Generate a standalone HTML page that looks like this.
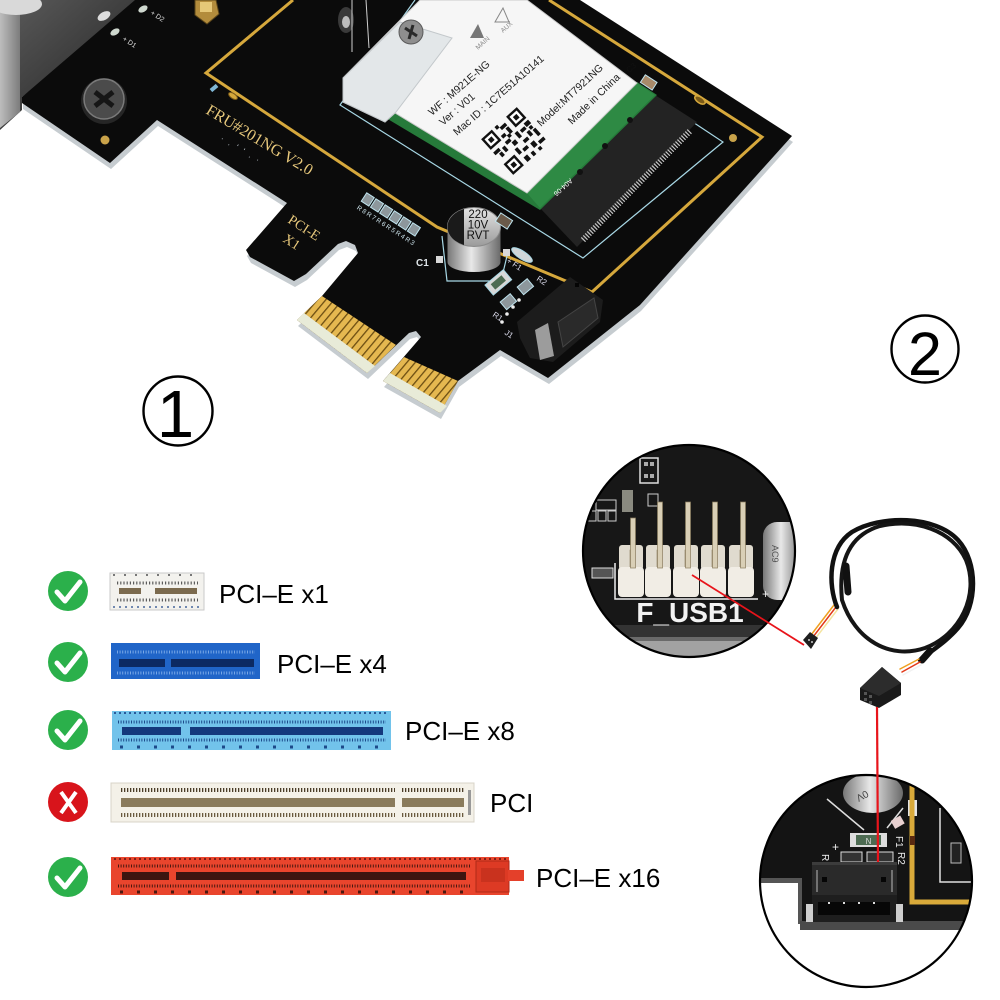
<!DOCTYPE html>
<html><head><meta charset="utf-8"><title>PCI-E WiFi card</title>
<style>
html,body{margin:0;padding:0;background:#fff;width:1000px;height:1000px;overflow:hidden}
svg{display:block}
</style></head><body>
<svg width="1000" height="1000" viewBox="0 0 1000 1000" xmlns="http://www.w3.org/2000/svg" font-family="Liberation Sans, Arial, sans-serif">
<defs>
 <linearGradient id="brk" x1="0" x2="1" y1="0" y2="0"><stop offset="0" stop-color="#bdbdbd"/><stop offset="1" stop-color="#7c7c7c"/></linearGradient>
 <linearGradient id="brk2" x1="0" y1="0" x2="1" y2="1"><stop offset="0" stop-color="#5c5c5c"/><stop offset="1" stop-color="#1c1c1c"/></linearGradient>
 <pattern id="fing" width="6.4" height="10" patternUnits="userSpaceOnUse" patternTransform="rotate(40)"><rect width="6.4" height="10" fill="#6b4d12"/><rect x="1.3" width="5.1" height="10" fill="#e5b850"/></pattern>
 <linearGradient id="cap" x1="0" x2="1"><stop offset="0" stop-color="#777"/><stop offset=".45" stop-color="#e8e8e8"/><stop offset="1" stop-color="#6a6a6a"/></linearGradient>
 <linearGradient id="capv" x1="0" x2="0" y1="0" y2="1"><stop offset="0" stop-color="#e4e4e4"/><stop offset="1" stop-color="#9a9a9a"/></linearGradient>
 <clipPath id="c1"><circle cx="689" cy="551" r="106"/></clipPath>
 <clipPath id="c2"><circle cx="866" cy="881" r="106"/></clipPath>
 <clipPath id="captop"><ellipse cx="474" cy="227" rx="26.5" ry="19.5"/></clipPath>
</defs>
<rect width="1000" height="1000" fill="#fff"/>

<!-- ===== bracket ===== -->
<polygon points="0,0 145,0 22,97 22,110 0,130" fill="url(#brk2)"/>
<polygon points="0,0 20,0 20,112 0,128" fill="url(#brk)"/>
<ellipse cx="16" cy="4" rx="26" ry="11" fill="#d9d9d9"/>

<!-- ===== board ===== -->
<polygon transform="translate(1,6)" fill="#c6ccd0" points="135,0 580,0 792,136 640,305 548,378 500,350 458,381 440,413 383,381 421,337 416,331 409,333 367,373 297,320 322,296 358,253 355,245 346,241 338,244 306,274 294,281 250,257 246,250 287,203 157,120 110,163 22,103 22,97"/>
<polygon fill="#0b0b0b" points="135,0 580,0 792,136 640,305 548,378 500,350 458,381 440,413 383,381 421,337 416,331 409,333 367,373 297,320 322,296 358,253 355,245 346,241 338,244 306,274 294,281 250,257 246,250 287,203 157,120 110,163 22,103 22,97"/>

<!-- gold fingers -->
<polygon points="297,320 322,296 396,345 367,373" fill="url(#fing)"/>
<polygon points="297,320 304,313 375,366 367,373" fill="#e8ebd8"/>
<polygon points="383,381 404,357 458,381 440,413" fill="url(#fing)"/>
<polygon points="383,381 390,373 447,406 440,413" fill="#e8ebd8"/>

<!-- gold frame trace -->
<polyline points="293,0 206,73 437,227 592,292 762,137 549,0" fill="none" stroke="#d6a83c" stroke-width="3"/>
<rect x="210" y="86" width="8" height="4" fill="#7fb7d6" transform="rotate(-40 214 88)"/>
<ellipse cx="233" cy="96" rx="5" ry="2.5" fill="#d6a83c" stroke="#7a5a18" transform="rotate(34 233 96)"/>
<ellipse cx="700" cy="100" rx="6" ry="3" fill="#7a5a18" stroke="#d6a83c" stroke-width="1.5" transform="rotate(34 700 100)"/>
<circle cx="733" cy="138" r="4" fill="#c9a34a"/>

<!-- cyan silkscreen outline -->
<polyline points="415,0 340,105 583,258 723,142 508,0" fill="none" stroke="#a8d8e6" stroke-width="1.2"/>

<!-- foot screw -->
<circle cx="104" cy="101" r="23" fill="#262626"/>
<circle cx="104" cy="99" r="20" fill="#4b4b4b" stroke="#7a7a7a" stroke-width="1.5"/>
<path d="M95,92 L113,106 M113,92 L95,106" stroke="#161616" stroke-width="5"/>
<circle cx="105" cy="140" r="4.5" fill="#caa34a"/>

<!-- LEDs -->
<ellipse cx="104" cy="16" rx="7" ry="4" fill="#dcdcdc" transform="rotate(-30 104 16)"/>
<ellipse cx="115" cy="32" rx="5" ry="3" fill="#cfd8cf" transform="rotate(-30 115 32)"/>
<ellipse cx="143" cy="9" rx="5" ry="3" fill="#cfd8cf" transform="rotate(-30 143 9)"/>
<text x="122" y="40" font-size="7" fill="#ddd" transform="rotate(33 122 40)">+ D1</text>
<text x="150" y="14" font-size="7" fill="#ddd" transform="rotate(33 150 14)">+ D2</text>

<!-- brass connector -->
<polygon points="195,0 216,0 219,14 207,24 195,15" fill="#b38c3c" stroke="#5a4418"/>
<rect x="200" y="2" width="12" height="10" fill="#e6c878"/>

<!-- top components -->
<ellipse cx="346" cy="20" rx="8" ry="13" fill="#3a3a3a"/>
<ellipse cx="346" cy="22" rx="4" ry="6" fill="#bdbdbd"/>
<line x1="352" y1="0" x2="352" y2="52" stroke="#cfcfcf" stroke-width="1"/>
<line x1="366" y1="0" x2="369" y2="48" stroke="#cfcfcf" stroke-width="1"/>

<!-- FRU text -->
<text x="205" y="113" font-family="Liberation Serif, serif" font-size="16" fill="#e8c97c" transform="rotate(31 205 113)">FRU#201NG V2.0</text>
<text x="220" y="140" font-size="8" fill="#cfd8e0" letter-spacing="2" transform="rotate(31 220 140)">· . ' ' . ·</text>
<text x="287" y="222" font-family="Liberation Serif, serif" font-size="14" fill="#e8c97c" transform="rotate(33 287 222)">PCI-E</text>
<text x="282" y="241" font-family="Liberation Serif, serif" font-size="14" fill="#e8c97c" transform="rotate(33 282 241)">X1</text>

<!-- resistor array R3-R8 -->
<g transform="translate(364,197) rotate(33)">
 <rect x="0" y="-5" width="9" height="10" fill="#8d979c" stroke="#bfe4ef" stroke-width="1"/>
 <rect x="11" y="-5" width="9" height="10" fill="#8d979c" stroke="#bfe4ef" stroke-width="1"/>
 <rect x="22" y="-5" width="9" height="10" fill="#8d979c" stroke="#bfe4ef" stroke-width="1"/>
 <rect x="33" y="-5" width="9" height="10" fill="#8d979c" stroke="#bfe4ef" stroke-width="1"/>
 <rect x="44" y="-5" width="9" height="10" fill="#8d979c" stroke="#bfe4ef" stroke-width="1"/>
 <rect x="55" y="-5" width="9" height="10" fill="#8d979c" stroke="#bfe4ef" stroke-width="1"/>
 <text x="0" y="14" font-size="6.5" fill="#cfe6ef" letter-spacing="1.6">R8R7R6R5R4R3</text>
</g>

<!-- C1 + capacitor -->
<text x="416" y="266" font-size="10" font-weight="bold" fill="#e0e6ea">C1</text>
<polyline points="442,236 447,281 501,281 507,256" fill="none" stroke="#a8d8e6" stroke-width="1.2"/>
<rect x="436" y="256" width="7" height="7" fill="#d8d8d8"/>
<rect x="503" y="249" width="7" height="7" fill="#d8d8d8"/>
<path d="M447.5,227 L447.5,262 A26.5,10 0 0 0 500.5,262 L500.5,227 Z" fill="url(#cap)"/>
<ellipse cx="474" cy="227" rx="26.5" ry="19.5" fill="url(#capv)" stroke="#8a8a8a" stroke-width="1"/>
<rect x="440" y="200" width="24" height="60" fill="#1a1a1a" clip-path="url(#captop)"/>
<text x="478" y="218" font-size="11.5" text-anchor="middle" fill="#111">220</text>
<text x="478" y="228.5" font-size="11.5" text-anchor="middle" fill="#111">10V</text>
<text x="478" y="239" font-size="11.5" text-anchor="middle" fill="#111">RVT</text>
<rect x="497" y="216" width="14" height="10" fill="#6a5a4a" stroke="#bfe4ef" transform="rotate(33 504 221)"/>

<!-- small components near connector -->
<ellipse cx="522" cy="255" rx="12" ry="4" fill="#d0d6d8" stroke="#a8d8e6" transform="rotate(33 522 255)"/>
<text x="506" y="262" font-size="8" fill="#dde" transform="rotate(33 506 262)">+ F1</text>
<rect x="486" y="276" width="24" height="13" fill="#d8d8d8" stroke="#a8d8e6" transform="rotate(-40 498 282)"/>
<rect x="491" y="279" width="14" height="7" fill="#4d6b52" transform="rotate(-40 498 282)"/>
<rect x="519" y="282" width="13" height="10" fill="#8d979c" stroke="#bfe4ef" transform="rotate(-40 525 287)"/>
<rect x="502" y="297" width="13" height="10" fill="#8d979c" stroke="#bfe4ef" transform="rotate(-40 508 302)"/>
<text x="492" y="316" font-size="8" fill="#dde" transform="rotate(33 492 316)">R1</text>
<text x="536" y="280" font-size="8" fill="#dde" transform="rotate(33 536 280)">R2</text>
<circle cx="519" cy="300" r="1.8" fill="#eee"/><circle cx="513" cy="307" r="1.8" fill="#eee"/><circle cx="507" cy="314" r="1.8" fill="#eee"/><circle cx="502" cy="322" r="1.8" fill="#eee"/>
<text x="504" y="334" font-size="8" fill="#dde" transform="rotate(33 504 334)">J1</text>

<!-- J1 connector -->
<polygon points="517,322 570,277 603,300 600,322 553,362 530,358 520,338" fill="#1c1c1c"/>
<polygon points="558,322 594,298 598,318 563,347" fill="#2a2a2a" stroke="#444"/>
<polygon points="535,330 548,323 554,356 540,360" fill="#9c9c9c"/>
<rect x="575" y="283" width="4" height="4" fill="#050505"/>

<!-- ===== WiFi module ===== -->
<polygon points="540,208 577,247 697,122 655,95" fill="#232323"/>
<line x1="583" y1="240" x2="690" y2="131" stroke="#c6c6c6" stroke-width="6" stroke-dasharray="1.2 1.6"/>
<polygon points="386,118 540,210 657,95 637,82 527,193 395,112" fill="#267a3a"/>
<polygon points="527,193 637,83 655,95 540,208" fill="#2e8a44"/>
<circle cx="580" cy="172" r="3" fill="#111"/><circle cx="605" cy="146" r="3" fill="#111"/><circle cx="630" cy="120" r="3" fill="#111"/>
<text x="570" y="178" font-size="7" fill="#fff" transform="rotate(138 570 178)">A04-06</text>
<polygon points="343,78 420,0 527,0 637,83 527,193 395,113 385,122 343,102" fill="#f6f6f6" stroke="#c9c9c9" stroke-width="1"/>
<polygon points="343,78 400,22 452,38 396,112 385,122 343,102" fill="#e3e7e9" stroke="#c3c8cb" stroke-width="1"/>
<circle cx="411" cy="32" r="12" fill="#8e8e8e" stroke="#5a5a5a"/>
<path d="M405,28 L417,36 M413,25 L409,39" stroke="#2a2a2a" stroke-width="3"/>
<polygon points="470,38 478,24 484,38" fill="#777"/>
<polygon points="495,22 503,8 509,22" fill="none" stroke="#888"/>
<text x="478" y="50" font-size="6.5" fill="#888" transform="rotate(-42 478 50)">MAIN</text>
<text x="503" y="33" font-size="6.5" fill="#888" transform="rotate(-42 503 33)">AUX</text>
<g font-size="10.5" fill="#222">
 <text x="432" y="116" transform="rotate(-41 432 116)">WF : M921E-NG</text>
 <text x="443" y="126" transform="rotate(-41 443 126)">Ver : V01</text>
 <text x="457" y="136" transform="rotate(-41 457 136)">Mac ID : 1C7E51A10141</text>
 <text x="541" y="127" transform="rotate(-43 541 127)">Model:MT7921NG</text>
 <text x="572" y="125" transform="rotate(-44 572 125)">Made in China</text>
</g>
<text x="629" y="73" font-size="8" fill="#111" transform="rotate(-40 629 73)">C3</text>
<rect x="642" y="78" width="14" height="9" fill="#a88a6a" stroke="#bfe4ef" transform="rotate(33 649 82)"/>
<g transform="translate(515,141) rotate(-42) scale(1.2)">
 <rect x="-20" y="-20" width="12" height="12" fill="#111"/><rect x="-18" y="-18" width="8" height="8" fill="#fff"/><rect x="-16" y="-16" width="4" height="4" fill="#111"/>
 <rect x="8" y="-20" width="12" height="12" fill="#111"/><rect x="10" y="-18" width="8" height="8" fill="#fff"/><rect x="12" y="-16" width="4" height="4" fill="#111"/>
 <rect x="-20" y="8" width="12" height="12" fill="#111"/><rect x="-18" y="10" width="8" height="8" fill="#fff"/><rect x="-16" y="12" width="4" height="4" fill="#111"/>
 <g fill="#111">
  <rect x="-5" y="-20" width="3" height="3"/><rect x="-2" y="-17" width="6" height="3"/><rect x="1" y="-13" width="3" height="6"/>
  <rect x="-6" y="-11" width="4" height="3"/><rect x="-20" y="-5" width="6" height="3"/><rect x="-12" y="-3" width="3" height="5"/>
  <rect x="-7" y="-5" width="5" height="3"/><rect x="-3" y="-1" width="4" height="4"/><rect x="4" y="-5" width="3" height="6"/>
  <rect x="9" y="-4" width="5" height="3"/><rect x="15" y="-6" width="5" height="4"/><rect x="12" y="1" width="3" height="5"/>
  <rect x="17" y="3" width="3" height="7"/><rect x="5" y="4" width="5" height="3"/><rect x="-5" y="5" width="3" height="6"/>
  <rect x="0" y="9" width="5" height="3"/><rect x="8" y="10" width="4" height="5"/><rect x="14" y="13" width="6" height="3"/>
  <rect x="-4" y="15" width="4" height="5"/><rect x="3" y="16" width="3" height="4"/><rect x="10" y="17" width="3" height="3"/>
  <rect x="-17" y="-1" width="3" height="4"/><rect x="-2" y="-8" width="3" height="3"/><rect x="16" y="-1" width="3" height="3"/>
 </g>
</g>

<!-- ===== circled numbers ===== -->
<circle cx="178" cy="411" r="34.5" fill="none" stroke="#000" stroke-width="2.4"/>
<text x="175.5" y="437" font-size="67" text-anchor="middle" fill="#000">1</text>
<circle cx="925" cy="349" r="33.5" fill="none" stroke="#000" stroke-width="2.4"/>
<text x="925" y="375" font-size="61" text-anchor="middle" fill="#000">2</text>

<!-- ===== compatibility list ===== -->
<g stroke="#fff" stroke-width="5" fill="none" stroke-linecap="round" stroke-linejoin="round">
 <circle cx="68" cy="591" r="20" fill="#2bb04b" stroke="none"/>
 <path d="M57,592 L65,601 L80,582"/>
 <circle cx="68" cy="662" r="20" fill="#2bb04b" stroke="none"/>
 <path d="M57,663 L65,672 L80,653"/>
 <circle cx="68" cy="730" r="20" fill="#2bb04b" stroke="none"/>
 <path d="M57,731 L65,740 L80,721"/>
 <circle cx="68" cy="802" r="20" fill="#d8141b" stroke="none"/>
 <path d="M61,792 L76,813 M76,792 L61,813" stroke-width="4" stroke-linecap="butt"/>
 <circle cx="68" cy="877" r="20" fill="#2bb04b" stroke="none"/>
 <path d="M57,878 L65,887 L80,868"/>
</g>

<!-- slot x1 -->
<rect x="110" y="573" width="94" height="37" fill="#f3f2ee" stroke="#c9c9c9"/>
<line x1="113" y1="575" x2="201" y2="575" stroke="#777" stroke-width="2" stroke-dasharray="2 9"/>
<line x1="117" y1="583" x2="198" y2="583" stroke="#5b5b5b" stroke-width="3" stroke-dasharray="1.2 2"/>
<rect x="119" y="588" width="22" height="6" fill="#7b6a4e"/>
<rect x="155" y="588" width="42" height="6" fill="#7b6a4e"/>
<line x1="117" y1="600" x2="198" y2="600" stroke="#5b5b5b" stroke-width="3" stroke-dasharray="1.2 2"/>
<line x1="113" y1="607" x2="201" y2="607" stroke="#7088b0" stroke-width="2" stroke-dasharray="2 4"/>
<text x="219" y="603" font-size="26" fill="#000">PCI–E x1</text>

<!-- slot x4 -->
<rect x="111" y="643" width="149" height="36" fill="#2065c8"/>
<line x1="117" y1="652" x2="255" y2="652" stroke="#79a8e6" stroke-width="3" stroke-dasharray="1 1.6"/>
<rect x="119" y="659" width="46" height="8" fill="#0c2a63"/>
<rect x="171" y="659" width="83" height="8" fill="#0c2a63"/>
<line x1="117" y1="673" x2="255" y2="673" stroke="#79a8e6" stroke-width="3" stroke-dasharray="1 1.6"/>
<text x="277" y="673" font-size="26" fill="#000">PCI–E x4</text>

<!-- slot x8 -->
<rect x="112" y="711" width="279" height="39" fill="#72c3eb"/>
<line x1="114" y1="713" x2="389" y2="713" stroke="#2a5a9a" stroke-width="2" stroke-dasharray="2 3"/>
<line x1="118" y1="722" x2="386" y2="722" stroke="#1c4a8a" stroke-width="3" stroke-dasharray="1 1.6"/>
<rect x="122" y="727" width="59" height="8" fill="#14387c"/>
<rect x="190" y="727" width="193" height="8" fill="#14387c"/>
<line x1="118" y1="740" x2="386" y2="740" stroke="#1c4a8a" stroke-width="3" stroke-dasharray="1 1.6"/>
<line x1="120" y1="747" x2="386" y2="747" stroke="#1c4a8a" stroke-width="3" stroke-dasharray="3 14"/>
<text x="405" y="740" font-size="26" fill="#000">PCI–E x8</text>

<!-- slot PCI -->
<rect x="111" y="783" width="363" height="39" fill="#f4f1e8" stroke="#d8d4c8"/>
<line x1="121" y1="790" x2="395" y2="790" stroke="#4a3d28" stroke-width="4" stroke-dasharray="1.3 1.7"/>
<line x1="402" y1="790" x2="464" y2="790" stroke="#4a3d28" stroke-width="4" stroke-dasharray="1.3 1.7"/>
<rect x="121" y="798" width="274" height="9" fill="#8a7b5c"/>
<rect x="402" y="798" width="62" height="9" fill="#8a7b5c"/>
<line x1="121" y1="815" x2="395" y2="815" stroke="#6a5a3e" stroke-width="4" stroke-dasharray="1.3 1.7"/>
<line x1="402" y1="815" x2="464" y2="815" stroke="#6a5a3e" stroke-width="4" stroke-dasharray="1.3 1.7"/>
<rect x="468" y="790" width="3" height="25" fill="#999"/>
<text x="490" y="812" font-size="26" fill="#000">PCI</text>

<!-- slot x16 -->
<rect x="111" y="857" width="398" height="38" fill="#e9452d"/>
<line x1="114" y1="859" x2="506" y2="859" stroke="#7a2216" stroke-width="2" stroke-dasharray="2 3"/>
<line x1="118" y1="866" x2="470" y2="866" stroke="#4a1810" stroke-width="3" stroke-dasharray="1 1.6"/>
<rect x="122" y="872" width="47" height="8" fill="#3c1510"/>
<rect x="176" y="872" width="290" height="8" fill="#3c1510"/>
<line x1="118" y1="886" x2="470" y2="886" stroke="#4a1810" stroke-width="3" stroke-dasharray="1 1.6"/>
<line x1="120" y1="892" x2="470" y2="892" stroke="#4a1810" stroke-width="3" stroke-dasharray="3 14"/>
<rect x="476" y="861" width="33" height="31" fill="#dd3a24" stroke="#b02a18"/>
<rect x="481" y="868" width="24" height="14" fill="#c9321e"/>
<rect x="508" y="870" width="16" height="11" fill="#e4402a"/>
<text x="536" y="887" font-size="26" fill="#000">PCI–E x16</text>

<!-- ===== magnifier 1 (F_USB1) ===== -->
<g clip-path="url(#c1)">
 <rect x="583" y="445" width="212" height="212" fill="#171717"/>
 <rect x="583" y="625" width="212" height="12" fill="#333"/>
 <rect x="583" y="637" width="212" height="25" fill="#a2a2a2"/>
 <rect x="583" y="637" width="212" height="4" fill="#6a6a6a"/>
 <rect x="640" y="458" width="18" height="25" fill="none" stroke="#ddd" stroke-width="1.5"/>
 <rect x="644" y="462" width="4" height="4" fill="#aaa"/><rect x="650" y="462" width="4" height="4" fill="#aaa"/>
 <rect x="644" y="474" width="4" height="4" fill="#aaa"/><rect x="650" y="474" width="4" height="4" fill="#aaa"/>
 <rect x="622" y="490" width="11" height="22" fill="#8a8a80"/>
 <rect x="596" y="500" width="20" height="10" fill="none" stroke="#ccc"/>
 <rect x="588" y="511" width="8" height="10" fill="none" stroke="#ccc"/><rect x="598" y="511" width="8" height="10" fill="none" stroke="#ccc"/><rect x="608" y="511" width="8" height="10" fill="none" stroke="#ccc"/>
 <rect x="648" y="494" width="10" height="12" fill="none" stroke="#ccc"/>
 <rect x="592" y="568" width="21" height="10" fill="#555" stroke="#ddd"/>
 <rect x="763" y="522" width="40" height="78" rx="14" fill="url(#cap)"/>
 <text x="772" y="545" font-size="9" fill="#555" transform="rotate(90 772 545)">AC9</text>
 <g fill="#e0dbcf">
  <rect x="619" y="545" width="24" height="25" rx="3"/><rect x="646" y="545" width="24" height="25" rx="3"/><rect x="674" y="545" width="24" height="25" rx="3"/><rect x="701" y="545" width="24" height="25" rx="3"/><rect x="729" y="545" width="24" height="25" rx="3"/>
 </g>
 <g fill="#c9bfa6" stroke="#8a7d5e" stroke-width=".6">
  <rect x="630" y="550" width="4" height="20"/><rect x="657" y="550" width="4" height="20"/><rect x="685" y="550" width="4" height="20"/><rect x="712" y="550" width="4" height="20"/><rect x="740" y="550" width="4" height="20"/>
 </g>
 <g fill="#f1ede5">
  <rect x="618" y="567" width="26" height="30" rx="4"/><rect x="645" y="567" width="26" height="30" rx="4"/><rect x="673" y="567" width="26" height="30" rx="4"/><rect x="700" y="567" width="26" height="30" rx="4"/><rect x="728" y="567" width="26" height="30" rx="4"/>
 </g>
 <g fill="#d9cfb6" stroke="#8a7d5e" stroke-width=".7">
  <rect x="630.5" y="518" width="5" height="50"/><rect x="657.5" y="502" width="5" height="66"/><rect x="685.5" y="502" width="5" height="66"/><rect x="712.5" y="502" width="5" height="66"/><rect x="740.5" y="502" width="5" height="66"/>
 </g>
 <polyline points="615,563 615,599 758,599" fill="none" stroke="#eee" stroke-width="1.5"/>
 <text x="762" y="598" font-size="12" fill="#eee">+</text>
 <text x="690" y="622" font-size="28" font-weight="bold" fill="#f2f2f2" text-anchor="middle">F_USB1</text>
</g>
<circle cx="689" cy="551" r="106" fill="none" stroke="#000" stroke-width="2.2"/>

<!-- ===== cable ===== -->
<g fill="none" stroke-linecap="round">
 <path d="M813,637 L836,607" stroke="#e23a1a" stroke-width="1.5"/>
 <path d="M811,635 L834,605" stroke="#f0a020" stroke-width="1.5"/>
 <path d="M815,639 L838,609" stroke="#f4e4a0" stroke-width="1.5"/>
 <path d="M837,607 C828,585 828,548 852,532 C880,515 935,515 958,540 C978,562 978,605 958,628 C945,643 932,650 920,660" stroke="#111" stroke-width="4.5"/>
 <path d="M842,600 C838,560 850,535 880,526 C915,518 952,530 966,560 C980,595 960,635 925,648 C890,660 855,640 842,600" stroke="#151515" stroke-width="4"/>
 <path d="M846,566 L848,592" stroke="#111" stroke-width="7"/>
 <path d="M930,651 L922,660" stroke="#111" stroke-width="7"/>
 <path d="M920,662 L902,672" stroke="#e23a1a" stroke-width="1.5"/>
 <path d="M919,659 L900,669" stroke="#f0a020" stroke-width="1.5"/>
 <path d="M921,665 L903,675" stroke="#f2f2f2" stroke-width="1.5"/>
</g>
<polygon points="803,640 810,632 818,638 811,649" fill="#1e1e1e"/>
<circle cx="809" cy="640" r="1" fill="#ccc"/><circle cx="812" cy="642" r="1" fill="#ccc"/>
<polygon points="860,688 882,667 901,683 901,695 879,708 860,700" fill="#1a1a1a"/>
<polygon points="860,688 882,667 901,683 879,696" fill="#2c2c2c"/>
<g fill="#555"><rect x="864" y="692" width="3" height="3"/><rect x="869" y="695" width="3" height="3"/><rect x="864" y="698" width="3" height="3"/><rect x="869" y="701" width="3" height="3"/></g>

<line x1="692" y1="575" x2="804" y2="645" stroke="#e8141b" stroke-width="1.8"/>

<!-- ===== magnifier 2 (J1) ===== -->
<g clip-path="url(#c2)">
 <rect x="760" y="775" width="212" height="212" fill="#141414"/>
 <rect x="760" y="930" width="212" height="60" fill="#fff"/>
 <rect x="760" y="882" width="40" height="50" fill="#fff"/>
 <rect x="760" y="878" width="42" height="5" fill="#555"/>
 <rect x="798" y="880" width="4" height="44" fill="#555"/>
 <rect x="800" y="921" width="175" height="9" fill="#4a4a4a"/>
 <ellipse cx="873" cy="793" rx="30" ry="20" fill="url(#cap)"/>
 <text x="866" y="790" font-size="10" fill="#444" transform="rotate(150 866 790)">0V</text>
 <path d="M827,799 L864,830 M903,808 L887,828" stroke="#ddd" stroke-width="1.5" fill="none"/>
 <rect x="892" y="818" width="11" height="9" fill="#e8d0d0" transform="rotate(-30 897 822)"/>
 <rect x="908" y="800" width="9" height="16" fill="#e4e4e4"/>
 <path d="M912,782 L912,902 L975,902" fill="none" stroke="#d9aa3a" stroke-width="5"/>
 <rect x="910" y="836" width="5" height="9" fill="#5a2a10"/>
 <polyline points="940,808 940,882 975,882" fill="none" stroke="#e0e0e0" stroke-width="1.5"/>
 <rect x="951" y="843" width="10" height="20" fill="#222" stroke="#bbb"/>
 <rect x="850" y="833" width="37" height="14" fill="#ddd"/>
 <rect x="856" y="835" width="25" height="10" fill="#4d6b52"/>
 <text x="868.5" y="844" font-size="8" fill="#ddd" text-anchor="middle">N</text>
 <rect x="841" y="852" width="21" height="10" fill="#333" stroke="#ddd"/>
 <rect x="867" y="852" width="26" height="10" fill="#333" stroke="#ddd"/>
 <text x="832" y="851" font-size="12" fill="#eee">+</text>
 <text x="822" y="862" font-size="10" fill="#eee" transform="rotate(90 826 858)">R</text>
 <text x="892" y="840" font-size="10" fill="#eee" transform="rotate(90 896 840)">F1</text>
 <text x="894" y="856" font-size="10" fill="#eee" transform="rotate(90 898 856)">R2</text>
 <rect x="812" y="862" width="85" height="33" fill="#2a2a2a"/>
 <rect x="812" y="862" width="85" height="3" fill="#3c3c3c"/>
 <rect x="822" y="877" width="5" height="5" fill="#050505"/>
 <rect x="881" y="877" width="5" height="5" fill="#050505"/>
 <line x1="817" y1="870" x2="817" y2="892" stroke="#bbb" stroke-width="1"/>
 <line x1="892" y1="870" x2="892" y2="892" stroke="#bbb" stroke-width="1"/>
 <rect x="812" y="895" width="85" height="27" fill="#1e1e1e"/>
 <rect x="818" y="902" width="72" height="13" fill="#070707"/>
 <g fill="#ddd"><rect x="828" y="902" width="2" height="2"/><rect x="843" y="902" width="2" height="2"/><rect x="858" y="902" width="2" height="2"/><rect x="873" y="902" width="2" height="2"/></g>
 <rect x="806" y="904" width="7" height="18" fill="#cfcfcf"/>
 <rect x="896" y="904" width="7" height="18" fill="#cfcfcf"/>
</g>
<circle cx="866" cy="881" r="106" fill="none" stroke="#000" stroke-width="2.2"/>

<line x1="877" y1="707" x2="878" y2="862" stroke="#e8141b" stroke-width="2.2"/>
</svg>
</body></html>
